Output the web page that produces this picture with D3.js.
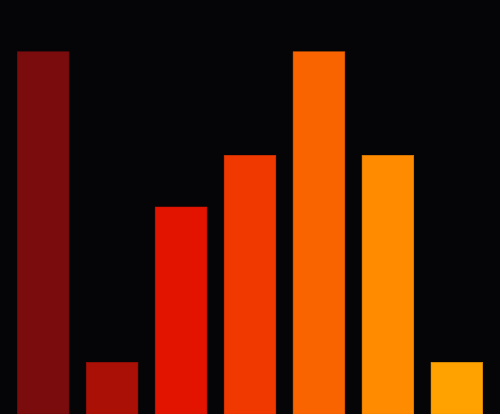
<!DOCTYPE html>
<html><head><meta charset="utf-8">
<script src="https://cdn.jsdelivr.net/npm/d3@7"></script>
<style>html,body{margin:0;padding:0;background:#050507;overflow:hidden}</style>
</head><body>
<svg id="chart" width="500" height="414"></svg>
<script>
const categories = ["A","B","C","D","E","F","G"];
const values = [7,1,4,5,7,5,1];
const colors = ["#7a0c0e","#aa1006","#e21400","#f03900","#f96400","#ff8c00","#ffa200"];

const W = 500, H = 414;
const svg = d3.select("#chart");
svg.append("rect").attr("width",W).attr("height",H).attr("fill","#050507");
const x = d3.scaleBand().domain(categories).range([0,W]).paddingInner(0.25).paddingOuter(0.25);
const y = d3.scaleLinear().domain([0,8]).range([H,0]);
svg.selectAll("rect.bar").data(categories).join("rect")
  .attr("class","bar")
  .attr("x",d=>x(d))
  .attr("width",x.bandwidth())
  .attr("y",(d,i)=>y(values[i]))
  .attr("height",(d,i)=>H-y(values[i]))
  .attr("fill",(d,i)=>colors[i])
  .attr("stroke",(d,i)=>d3.color(colors[i]).darker(0.3))
  .attr("stroke-width",0.5);
</script>
</body></html>
